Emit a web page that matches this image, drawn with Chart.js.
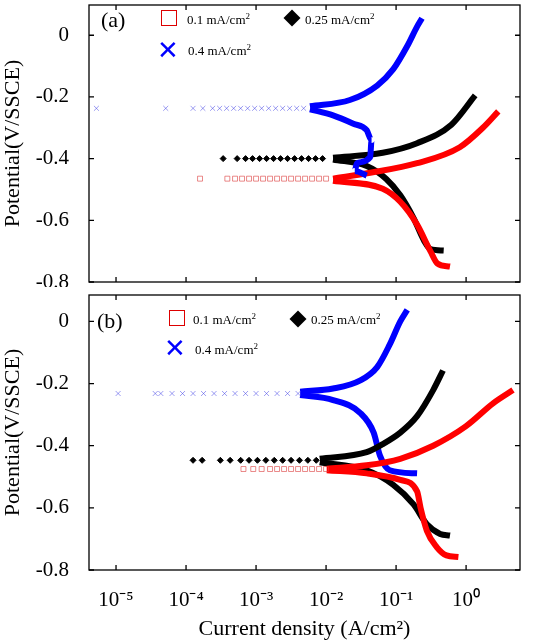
<!DOCTYPE html>
<html>
<head>
<meta charset="utf-8">
<script src="https://cdn.jsdelivr.net/npm/chart.js@4.4.0/dist/chart.umd.min.js"></script>
<style>
  body { margin: 0; background: #fff; width: 537px; height: 642px; position: relative; overflow: hidden; }
  canvas { position: absolute; left: 0; }
  .lbl { position: absolute; font-family: "Liberation Serif", serif; color: #000; white-space: nowrap; }
  .lbl sup { font-size: 9px; }
  .m { position: absolute; font-family: "DejaVu Sans", sans-serif; }
</style>
</head>
<body>
<canvas id="a" style="top:0" width="537" height="287"></canvas>
<canvas id="b" style="top:290px" width="537" height="352"></canvas>

<div class="lbl" style="left:101px;top:7px;font-size:22px">(a)</div>
<div class="m" style="left:161px;top:10px;width:14px;height:14px;border:1.5px solid #d00"></div>
<div class="lbl" style="left:187px;top:11px;font-size:13px">0.1 mA/cm<sup>2</sup></div>
<div class="m" style="left:286px;top:12px;width:12px;height:12px;background:#000;transform:rotate(45deg)"></div>
<div class="lbl" style="left:305px;top:11px;font-size:13px">0.25 mA/cm<sup>2</sup></div>
<div class="m" style="left:157px;top:37px;font-size:26px;color:#00f;line-height:26px">✕</div>
<div class="lbl" style="left:188px;top:42px;font-size:13px">0.4 mA/cm<sup>2</sup></div>

<div class="lbl" style="left:97px;top:308px;font-size:22px">(b)</div>
<div class="m" style="left:169px;top:310px;width:14px;height:14px;border:1.5px solid #d00"></div>
<div class="lbl" style="left:193px;top:311px;font-size:13px">0.1 mA/cm<sup>2</sup></div>
<div class="m" style="left:292px;top:313px;width:12px;height:12px;background:#000;transform:rotate(45deg)"></div>
<div class="lbl" style="left:311px;top:311px;font-size:13px">0.25 mA/cm<sup>2</sup></div>
<div class="m" style="left:164px;top:335px;font-size:26px;color:#00f;line-height:26px">✕</div>
<div class="lbl" style="left:195px;top:341px;font-size:13px">0.4 mA/cm<sup>2</sup></div>

<script>
// log10(current density) and potential
// panel (a)
const aRedScatLog = [-3.8, -3.41, -3.3, -3.2, -3.1, -3.0, -2.9, -2.8, -2.7, -2.6, -2.5, -2.4, -2.3, -2.2, -2.1, -2.0];
const aRedScatE = -0.465;
const aRedAnoLog = [-1.9, -1.37, -0.7, -0.09, 0.24, 0.46];
const aRedAnoE = [-0.465, -0.446, -0.415, -0.363, -0.3, -0.247];
const aRedCatLog = [-1.9, -1.19, -0.94, -0.7, -0.51, -0.41, -0.23];
const aRedCatE = [-0.472, -0.498, -0.54, -0.614, -0.7, -0.74, -0.75];

const aBlkScatLog = [-3.47, -3.27, -3.15, -3.05, -2.95, -2.85, -2.75, -2.65, -2.55, -2.45, -2.35, -2.25, -2.15, -2.05];
const aBlkScatE = -0.40;
const aBlkAnoLog = [-1.9, -1.19, -0.7, -0.21, 0.13];
const aBlkAnoE = [-0.397, -0.381, -0.35, -0.29, -0.195];
const aBlkCatLog = [-1.9, -1.42, -1.14, -0.94, -0.75, -0.6, -0.51, -0.32];
const aBlkCatE = [-0.403, -0.424, -0.466, -0.519, -0.593, -0.666, -0.693, -0.698];

const aBluScatLog = [-5.28, -4.29, -3.9, -3.76, -3.62, -3.52, -3.42, -3.32, -3.22, -3.12, -3.02, -2.92, -2.82, -2.72, -2.62, -2.52, -2.42, -2.32];
const aBluScatE = -0.237;
const aBluAnoLog = [-2.23, -1.66, -1.27, -1.04, -0.84, -0.7, -0.63];
const aBluAnoE = [-0.23, -0.21, -0.163, -0.11, -0.035, 0.028, 0.055];
const aBluCatLog = [-2.23, -1.9, -1.61, -1.42, -1.35, -1.37, -1.56, -1.59, -1.42];
const aBluCatE = [-0.24, -0.26, -0.287, -0.308, -0.34, -0.395, -0.415, -0.44, -0.455];

// panel (b)
const bRedScatLog = [-3.18, -3.04, -2.92, -2.8, -2.7, -2.6, -2.5, -2.4, -2.3, -2.2, -2.1, -2.0];
const bRedScatE = -0.475;
const bRedAnoLog = [-1.99, -1.42, -0.94, -0.47, 0.0, 0.39, 0.67];
const bRedAnoE = [-0.474, -0.463, -0.442, -0.4, -0.337, -0.263, -0.221];
const bRedCatLog = [-1.99, -1.42, -0.94, -0.7, -0.65, -0.56, -0.42, -0.28, -0.11];
const bRedCatE = [-0.479, -0.489, -0.51, -0.547, -0.6, -0.674, -0.726, -0.753, -0.758];

const bBlkScatLog = [-3.9, -3.77, -3.51, -3.37, -3.22, -3.1, -2.98, -2.86, -2.74, -2.62, -2.5, -2.38, -2.26, -2.14];
const bBlkScatE = -0.447;
const bBlkAnoLog = [-2.09, -1.42, -1.19, -0.94, -0.7, -0.47, -0.33];
const bBlkAnoE = [-0.442, -0.421, -0.395, -0.358, -0.305, -0.221, -0.158];
const bBlkCatLog = [-2.09, -1.42, -1.04, -0.75, -0.56, -0.37, -0.23];
const bBlkCatE = [-0.453, -0.479, -0.526, -0.589, -0.653, -0.684, -0.689];

const bBluScatLog = [-4.97, -4.44, -4.36, -4.2, -4.05, -3.9, -3.75, -3.6, -3.45, -3.3, -3.15, -3.0, -2.85, -2.7, -2.55, -2.4];
const bBluScatE = -0.232;
const bBluAnoLog = [-2.37, -1.9, -1.51, -1.27, -1.09, -0.94, -0.84];
const bBluAnoE = [-0.226, -0.216, -0.19, -0.147, -0.074, 0.0, 0.037];
const bBluCatLog = [-2.37, -1.9, -1.51, -1.32, -1.23, -1.09, -0.7];
const bBluCatE = [-0.237, -0.253, -0.295, -0.358, -0.432, -0.479, -0.489];

const yTicks = [0, -0.2, -0.4, -0.6, -0.8];
const xTicks = [-5, -4, -3, -2, -1, 0];
const sup = { '-': '⁻', '0': '⁰', '1': '¹', '2': '²', '3': '³', '4': '⁴', '5': '⁵' };

const RED = '#ff0000', BLK = '#000000', BLU = '#0000ff';

function pts(logs, es) {
  return logs.map((l, i) => ({ x: Math.pow(10, l), y: Array.isArray(es) ? es[i] : es }));
}
function line(logs, es, color) {
  return { type: 'line', data: pts(logs, es), borderColor: color, borderWidth: 6, pointRadius: 0,
           fill: false, cubicInterpolationMode: 'monotone' };
}
function scat(logs, e, color, style) {
  return { type: 'scatter', data: pts(logs, e), borderColor: color, backgroundColor: style === 'rect' ? 'transparent' : color,
           pointStyle: style, pointRadius: style === 'rectRot' ? 3 : 3.5, borderWidth: 1, showLine: false };
}

const framePlugin = {
  id: 'frame',
  afterDraw(chart) {
    const { ctx, chartArea: a, scales } = chart;
    ctx.save();
    ctx.strokeStyle = '#000';
    ctx.lineWidth = 1.3;
    ctx.strokeRect(a.left, a.top, a.right - a.left, a.bottom - a.top);
    ctx.beginPath();
    xTicks.forEach(t => {
      const px = scales.x.getPixelForValue(Math.pow(10, t));
      ctx.moveTo(px, a.bottom); ctx.lineTo(px, a.bottom - 5);
      ctx.moveTo(px, a.top); ctx.lineTo(px, a.top + 5);
    });
    yTicks.forEach(t => {
      const py = scales.y.getPixelForValue(t);
      ctx.moveTo(a.left, py); ctx.lineTo(a.left + 5, py);
      ctx.moveTo(a.right, py); ctx.lineTo(a.right - 5, py);
    });
    ctx.stroke();
    ctx.restore();
  }
};

function makeChart(id, datasets, yMax, showX) {
  new Chart(document.getElementById(id), {
    data: { datasets },
    plugins: [framePlugin],
    options: {
      responsive: false, animation: false,
      layout: { padding: { top: 1, right: 17, bottom: showX ? 0 : 1 } },
      plugins: { legend: { display: false }, tooltip: { enabled: false } },
      scales: {
        x: {
          type: 'logarithmic', min: Math.pow(10, -5.386), max: Math.pow(10, 0.77),
          grid: { display: false }, border: { display: false },
          afterBuildTicks: s => { s.ticks = xTicks.map(t => ({ value: Math.pow(10, t) })); },
          afterFit: s => { s.height = showX ? 72 : 0; s.paddingLeft = 0; s.paddingRight = 0; },
          ticks: {
            display: showX, color: '#000', padding: 10,
            font: { family: 'Liberation Serif', size: 21 },
            callback: v => '10' + String(Math.round(Math.log10(v))).split('').map(c => sup[c]).join('')
          },
          title: { display: showX, text: 'Current density (A/cm²)', color: '#000', padding: 0,
                   font: { family: 'Liberation Serif', size: 22 } }
        },
        y: {
          min: -0.8, max: yMax,
          grid: { display: false }, border: { display: false },
          afterBuildTicks: s => { s.ticks = yTicks.map(v => ({ value: v })); },
          afterFit: s => { s.width = 89; s.paddingTop = 0; s.paddingBottom = 0; },
          ticks: { color: '#000', padding: 12, font: { family: 'Liberation Serif', size: 21 },
                   callback: v => v === 0 ? '0' : v.toFixed(1) },
          title: { display: true, text: 'Potential(V/SSCE)', color: '#000', padding: 0,
                   font: { family: 'Liberation Serif', size: 22 } }
        }
      }
    }
  });
}

makeChart('a', [
  scat(aRedScatLog, aRedScatE, 'rgba(220,60,60,0.6)', 'rect'),
  scat(aBlkScatLog, aBlkScatE, BLK, 'rectRot'),
  scat(aBluScatLog, aBluScatE, 'rgba(60,60,230,0.5)', 'crossRot'),
  line(aBluAnoLog, aBluAnoE, BLU), line(aBluCatLog, aBluCatE, BLU),
  line(aRedAnoLog, aRedAnoE, RED), line(aRedCatLog, aRedCatE, RED),
  line(aBlkAnoLog, aBlkAnoE, BLK), line(aBlkCatLog, aBlkCatE, BLK)
], 0.098, false);

makeChart('b', [
  scat(bRedScatLog, bRedScatE, 'rgba(220,60,60,0.6)', 'rect'),
  scat(bBlkScatLog, bBlkScatE, BLK, 'rectRot'),
  scat(bBluScatLog, bBluScatE, 'rgba(60,60,230,0.5)', 'crossRot'),
  line(bRedAnoLog, bRedAnoE, RED), line(bRedCatLog, bRedCatE, RED),
  line(bBlkAnoLog, bBlkAnoE, BLK), line(bBlkCatLog, bBlkCatE, BLK),
  line(bBluAnoLog, bBluAnoE, BLU), line(bBluCatLog, bBluCatE, BLU)
], 0.085, true);
</script>
</body>
</html>
